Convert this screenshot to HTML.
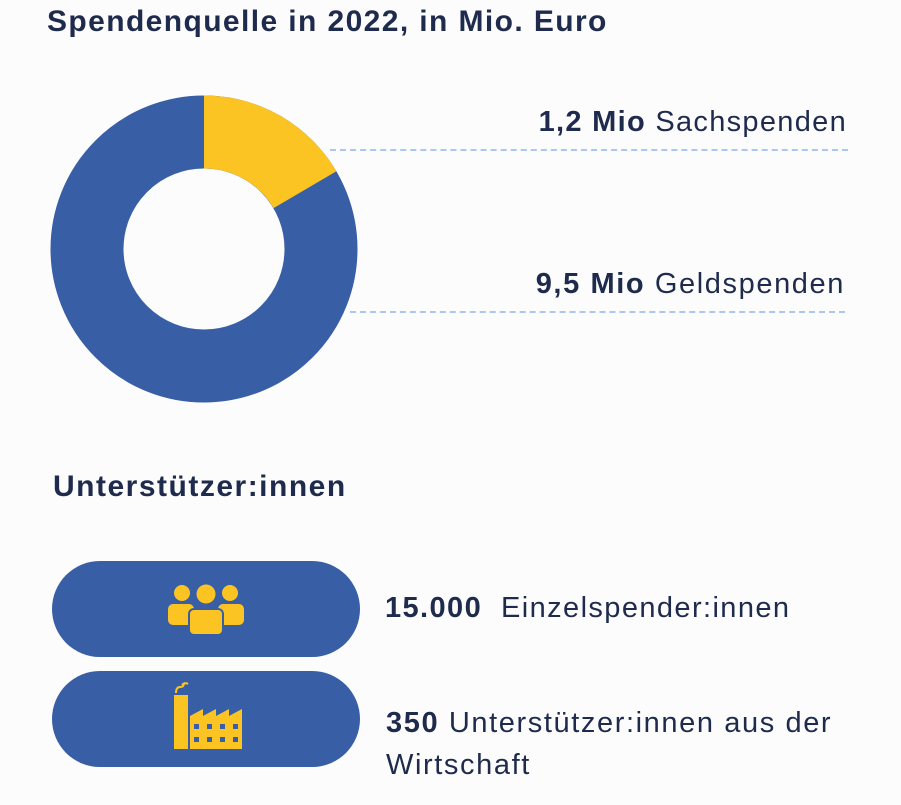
<!DOCTYPE html>
<html><head><meta charset="utf-8"><style>
body{margin:0;width:901px;height:805px;background:#fcfcfd;font-family:"Liberation Sans",sans-serif;color:#1f2b4d;position:relative;overflow:hidden}
.a{position:absolute;white-space:nowrap}
.pill{position:absolute;left:52px;width:308px;height:96px;border-radius:48px;background:#385ea6}
.dash{position:absolute;height:0;border-top:2px dashed #a9c7f2}
</style></head><body>
<div class="a" style="left:47px;top:5px;font-size:30px;font-weight:bold;letter-spacing:1.4px">Spendenquelle in 2022, in Mio. Euro</div>
<svg class="a" style="left:0;top:0" width="901" height="440">
<circle cx="204" cy="249" r="117" fill="none" stroke="#385ea6" stroke-width="73"/>
<path d="M204 95.5 A153.5 153.5 0 0 1 336.4 171.3 L273.6 208.1 A80.5 80.5 0 0 0 204 168.5 Z" fill="#fbc423"/>
</svg>
<div class="dash" style="left:330px;top:149px;width:518px"></div>
<div class="dash" style="left:350px;top:311px;width:495px"></div>
<div class="a" style="right:54px;top:106px;font-size:29px;letter-spacing:1.3px"><b>1,2 Mio</b> Sachspenden</div>
<div class="a" style="right:56px;top:268px;font-size:29px;letter-spacing:1.6px"><b>9,5 Mio</b> Geldspenden</div>
<div class="a" style="left:53px;top:470px;font-size:30px;font-weight:bold;letter-spacing:1.5px">Unterstützer:innen</div>
<div class="pill" style="top:561px"></div>
<div class="pill" style="top:671px"></div>
<svg class="a" style="left:0;top:0" width="400" height="805">
<g fill="#fbc423">
<circle cx="182" cy="593" r="8"/><circle cx="230" cy="593" r="8"/><circle cx="206" cy="594" r="9.5"/>
<rect x="168" y="604" width="26" height="21" rx="5"/><rect x="218" y="604" width="26" height="21" rx="5"/>
<rect x="189" y="609" width="34" height="26" rx="5" stroke="#385ea6" stroke-width="2"/>
<rect x="174" y="695" width="14" height="54"/>
<path d="M190 749 V716 L203 709 V716 L216 709 V716 L229 709 V716 L242 709 V749 Z"/>
<path d="M176 693 q0-6 4-6 q4 0 4-4 M182 685 q3-3 6-1" stroke="#fbc423" stroke-width="2" fill="none"/>
</g>
<g fill="#385ea6">
<rect x="194" y="724" width="5" height="5"/><rect x="207" y="724" width="5" height="5"/><rect x="220" y="724" width="5" height="5"/><rect x="233" y="724" width="5" height="5"/>
<rect x="194" y="737" width="5" height="5"/><rect x="207" y="737" width="5" height="5"/><rect x="220" y="737" width="5" height="5"/><rect x="233" y="737" width="5" height="5"/>
</g>
</svg>
<div class="a" style="left:385px;top:592px;font-size:29px;letter-spacing:1.4px"><b>15.000</b>&nbsp; Einzelspender:innen</div>
<div class="a" style="left:386px;top:702px;font-size:29px;line-height:42px;letter-spacing:1.6px"><b>350</b> Unterstützer:innen aus der<br>Wirtschaft</div>
</body></html>
